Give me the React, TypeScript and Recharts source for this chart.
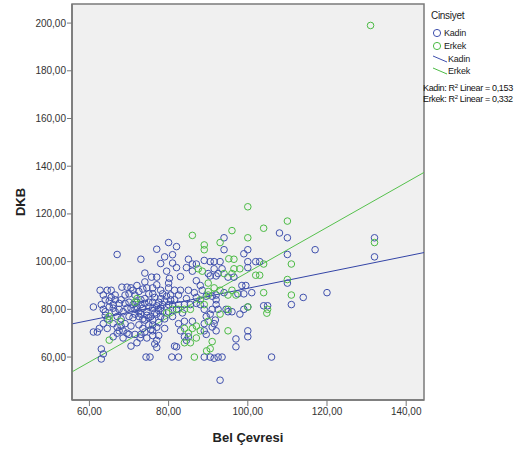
import { ScatterChart, Scatter, XAxis, YAxis, ReferenceArea, ReferenceLine } from 'recharts';

// Bel Çevresi (x) vs DKB (y)
const kadinPoints: [number, number][] = [
  [61, 81], [61, 70.5], [62, 70.5], [62.5, 72], [63, 63.4], [63, 59.2], [63.5, 61.3], [62.7, 88], [63.5, 86], [64, 84],
  [63, 82], [64.5, 88], [65.5, 88], [64, 79], [64.5, 76], [63.5, 74], [64, 77.5], [65, 81], [65, 83.5], [64.5, 72],
  [66, 82], [67, 103], [66.5, 79], [67, 77], [66, 74], [67.5, 71], [66.5, 86], [68.2, 89.3], [69.5, 89.3], [70.5, 89],
  [68, 84], [69, 82.5], [70, 83], [67.5, 80], [68.5, 79], [69.5, 80.5], [70, 77], [68, 76], [69, 74], [70.5, 73],
  [68, 73], [67, 70], [69.5, 70], [70.5, 64.6], [70, 69.5], [66, 68.5], [68.5, 68],
  [71, 88], [72.5, 87.5], [73.5, 88.5], [72, 83], [73, 84], [74, 82.5], [75, 83], [71.5, 80], [72.5, 79], [73.5, 80.5],
  [74.5, 79], [71, 76.5], [72.5, 77], [74, 75.5], [75, 76.5], [72.5, 73.5], [73.5, 72], [75, 73.5], [71.5, 69.5], [73, 69.5],
  [72.8, 68], [74.5, 68], [73, 101], [74, 95.2], [74, 91.5], [74.3, 60], [75.3, 60], [71.5, 86], [75, 86.5], [73, 78],
  [74, 70.5], [72, 66],
  [63.5, 80], [65.5, 85], [66.5, 84], [67.5, 82.5], [69, 86], [70, 86.5], [71, 82], [72, 81], [73, 82], [74, 84.5],
  [75, 81], [76, 86.5], [77, 81.5], [78, 80.5], [79, 83.5], [73.5, 76], [74.5, 77.5], [76.5, 78.5], [75.5, 71.5], [76, 71],
  [77, 72.5], [70.5, 80.5], [71.5, 78], [66, 80.5], [67, 72.5], [68.5, 71], [78.5, 86.5], [80.5, 86], [74.5, 89], [72, 90],
  [75.7, 93.5], [77, 93.5], [77, 90.3], [76, 89], [78, 88], [77, 105.2], [79, 102], [78, 99.2], [76.5, 85], [78, 84.5],
  [79.5, 85.5], [76, 83], [77.5, 83], [78.5, 82], [80, 82], [76, 80.5], [77.5, 79.5], [78.5, 79], [80, 79], [75.5, 77],
  [77, 78], [78, 77], [79, 76], [76, 73.5], [77.5, 74.5], [79, 72], [76, 69], [77.5, 69], [76.5, 65.5], [77, 64],
  [77, 67], [80, 108], [80, 89], [80, 91], [80.2, 93], [79.5, 96], [76, 75.5],
  [81, 102.9], [82, 106.3], [81, 99.4], [82, 97.5], [83, 93.7], [81.5, 88], [83, 88], [85, 88], [80.5, 84], [81.5, 84],
  [82.5, 86], [84.5, 84.5], [81, 82], [82.5, 82], [84, 82], [82, 80], [83.5, 78.5], [81, 77], [84, 75], [82.5, 74],
  [84, 68.5], [85, 68.5], [84.5, 67], [81.5, 64.6], [82, 64.3], [80.8, 60], [82.5, 60], [83, 71], [85, 101], [84.5, 97.5],
  [86, 99], [87, 99], [89, 100.5], [85.5, 82], [86.5, 87], [87, 82.5], [88, 82], [88.5, 88], [87, 85], [89.5, 85.5],
  [89, 80], [89.5, 77], [86, 75], [89, 74], [89, 71], [89.5, 69.5], [89, 60], [90, 95], [87, 92], [88, 90], [86, 96],
  [91, 85.5], [92.5, 80], [91, 80], [90.5, 78], [91.5, 74], [92, 71], [91.8, 75.5], [91, 72.6], [90.5, 60], [91.5, 59.5],
  [92.5, 60], [93.5, 60], [93, 50.3], [94, 87], [92.5, 95], [91.5, 100], [90.5, 100], [93, 100], [94, 110], [94, 105],
  [90.5, 94], [92, 94], [91.5, 97], [93.5, 97], [92, 86], [92, 84], [92, 82], [95, 93.5], [94.5, 80],
  [96.5, 93.5], [96, 79], [95, 79], [98, 78], [99, 80], [97.5, 86.5], [99.5, 90], [98.5, 90], [97, 67.6], [97, 64.3],
  [100, 105], [99, 103.3], [100, 100], [100, 97.5], [100, 81], [100, 71], [100, 68.5], [99, 86.5],
  [101, 87], [102, 100], [103, 100], [104, 81.5], [105, 81.5], [106, 60], [108, 112], [110, 110], [110, 103], [110, 91],
  [111, 82], [114, 85], [117, 105], [120, 87], [132, 110], [132, 102],
];

const erkekPoints: [number, number][] = [
  [131, 199], [110, 117], [111, 99], [110, 92.5], [111, 86], [132, 108], [100, 123], [104, 114], [96, 113], [100, 110],
  [93, 108], [86, 111], [89, 107], [89, 105], [95.2, 101.2], [96.5, 101], [104, 99], [96.5, 97], [98, 97], [87.5, 97],
  [88.5, 96], [94, 95], [96, 95], [102, 94.3], [103, 94.3], [90, 91], [91.5, 89], [93, 88], [90, 87.5], [96, 88],
  [95, 86], [97, 86], [104, 87], [88, 84], [89, 82], [90, 86], [105, 80], [95, 80], [100, 81], [104.8, 78.4],
  [71.5, 83], [72, 84.5], [81, 80], [82.5, 80], [84, 80], [85.5, 80], [79.5, 78.5], [65, 77], [65, 75.5], [67.8, 75],
  [65, 67.1], [84, 72], [86, 72], [87, 73], [84, 66], [85.5, 66], [95, 71], [90.5, 63.5], [89.6, 62.6], [86.5, 60],
  [91, 66.5], [85, 70], [87, 68], [88, 71], [90, 75], [93, 78],
];

const xTicks = [60, 80, 100, 120, 140];
const yTicks = [60, 80, 100, 120, 140, 160, 180, 200];
const xDomain: [number, number] = [55.6, 144.5];
const yDomain: [number, number] = [42, 208];

// fitted lines, ends at the plot edges
const kadinFit = [{ x: 55.6, y: 73.9 }, { x: 144.5, y: 103.8 }];
const erkekFit = [{ x: 55.6, y: 53.8 }, { x: 144.5, y: 137.4 }];
const rSquared = { kadin: '0,153', erkek: '0,332' };

const BLUE = '#3f50ad';
const GREEN = '#4cbb45';
const FONT = '"Liberation Sans", Arial, sans-serif';

const fmt = (v: number) => v.toFixed(2).replace('.', ',');

const ring = (color: string) => (props: any) => (
  <circle cx={props.cx} cy={props.cy} r={3.3} fill="none" stroke={color} strokeWidth={1} />
);

function LegendBox() {
  const item = (top: number, kind: 'dot' | 'line', color: string, label: string) => (
    <div style={{ position: 'absolute', left: kind === 'dot' ? 432 : 433, top, height: 12, display: 'flex', alignItems: 'center' }}>
      <svg width={kind === 'dot' ? 12 : 15} height={10} style={{ display: 'block' }}>
        {kind === 'dot' ? (
          <circle cx={5} cy={5} r={3.6} fill="none" stroke={color} strokeWidth={1} />
        ) : (
          <line x1={0} y1={2} x2={14} y2={8} stroke={color} strokeWidth={1} />
        )}
      </svg>
      <span style={{ fontSize: 9, letterSpacing: -0.2, color: '#222' }}>{label}</span>
    </div>
  );
  const rLine = (top: number, name: string, r: string) => (
    <div style={{ position: 'absolute', left: 423, top, fontSize: 9, letterSpacing: -0.35, color: '#111', whiteSpace: 'nowrap' }}>
      {name}: R<sup style={{ fontSize: 6, verticalAlign: 3 }}>2</sup> Linear = {r}
    </div>
  );
  return (
    <div style={{ fontFamily: FONT }}>
      <div style={{ position: 'absolute', left: 431, top: 10, fontSize: 10, letterSpacing: -0.3, color: '#222' }}>Cinsiyet</div>
      {item(27, 'dot', BLUE, 'Kadin')}
      {item(40, 'dot', GREEN, 'Erkek')}
      {item(53, 'line', BLUE, 'Kadin')}
      {item(65, 'line', GREEN, 'Erkek')}
      {rLine(83, 'Kadin', rSquared.kadin)}
      {rLine(94, 'Erkek', rSquared.erkek)}
    </div>
  );
}

export default function App() {
  const kadin = kadinPoints.map(([x, y]) => ({ x, y }));
  const erkek = erkekPoints.map(([x, y]) => ({ x, y }));
  const tick = { fontSize: 10, fill: '#333', fontFamily: FONT };
  return (
    <div style={{ position: 'absolute', left: 0, top: 0, width: 532, height: 449, background: '#fff' }}>
      <ScatterChart width={532} height={449} margin={{ top: 4, right: 108, bottom: 0, left: 12 }}>
        <XAxis
          type="number"
          dataKey="x"
          domain={xDomain}
          ticks={xTicks}
          allowDataOverflow
          tickFormatter={fmt}
          height={49}
          tickSize={6}
          tick={tick}
          axisLine={{ stroke: '#777', strokeWidth: 1.5 }}
          tickLine={{ stroke: '#777' }}
          label={{
            value: 'Bel Çevresi',
            position: 'insideBottom',
            offset: 7,
            style: { fontSize: 13, fontWeight: 700, fill: '#222', fontFamily: FONT },
          }}
        />
        <YAxis
          type="number"
          dataKey="y"
          domain={yDomain}
          ticks={yTicks}
          allowDataOverflow
          tickFormatter={fmt}
          width={60}
          tickSize={5}
          tickMargin={1}
          tick={tick}
          axisLine={{ stroke: '#777', strokeWidth: 1.5 }}
          tickLine={{ stroke: '#777' }}
          label={(p: any) => {
            const vb = p.viewBox || { x: 12, y: 4, width: 60, height: 396 };
            const cx = vb.x + 8;
            const cy = vb.y + vb.height / 2;
            return (
              <text
                x={cx}
                y={cy}
                transform={`rotate(-90, ${cx}, ${cy})`}
                textAnchor="middle"
                dominantBaseline="central"
                style={{ fontSize: 13, fontWeight: 700, fill: '#222', fontFamily: FONT }}
              >
                DKB
              </text>
            );
          }}
        />
        <ReferenceArea
          x1={xDomain[0]}
          x2={xDomain[1]}
          y1={yDomain[0]}
          y2={yDomain[1]}
          fill="#f0f0f0"
          fillOpacity={1}
          stroke="#7a7a7a"
          strokeWidth={1.5}
        />
        <Scatter name="Kadin" data={kadin} shape={ring(BLUE)} isAnimationActive={false} />
        <Scatter name="Erkek" data={erkek} shape={ring(GREEN)} isAnimationActive={false} />
        <ReferenceLine segment={kadinFit} stroke="#3344a6" strokeWidth={1} />
        <ReferenceLine segment={erkekFit} stroke="#55c04c" strokeWidth={1} />
      </ScatterChart>
      <LegendBox />
    </div>
  );
}
